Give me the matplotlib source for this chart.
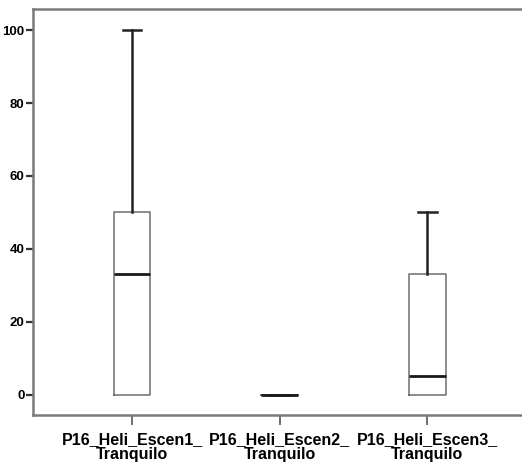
import matplotlib
matplotlib.use("Agg")
import matplotlib.pyplot as plt

labels = ["P16_Heli_Escen1_\nTranquilo", "P16_Heli_Escen2_\nTranquilo", "P16_Heli_Escen3_\nTranquilo"]
whislo = [0, 0, 0]
q1 = [0, 0, 0]
med = [33, 0, 5]
q3 = [50, 0, 33]
whishi = [100, 0, 50]
yticks = [0, 20, 40, 60, 80, 100]

stats = []
for i, lab in enumerate(labels):
    stats.append(dict(label=lab, whislo=whislo[i], q1=q1[i], med=med[i],
                      q3=q3[i], whishi=whishi[i], fliers=[]))

fig = plt.figure(figsize=(5.22, 4.69), dpi=100)
ax = fig.add_axes([0.0632, 0.1151, 0.9368, 0.8657])

parts = ax.bxp(stats, positions=[1, 2, 3], widths=0.25, showfliers=False,
               boxprops=dict(color="#6e6e6e", linewidth=1.1),
               whiskerprops=dict(color="#222222", linewidth=1.8),
               capprops=dict(color="#222222", linewidth=1.8),
               medianprops=dict(color="#1a1a1a", linewidth=2.0),
               capwidths=0.125)

# hide zero-length lower whiskers and their caps
for i in range(len(stats)):
    if whislo[i] == q1[i]:
        parts["caps"][2 * i].set_visible(False)
        parts["whiskers"][2 * i].set_visible(False)

ax.set_xlim(0.33, 3.64)
ax.set_ylim(-5.6, 105.8)
ax.set_yticks(yticks)
ax.set_yticklabels([str(v) for v in yticks], fontsize=9.5, fontweight="bold",
                   family="Liberation Sans")
ax.set_xticks([1, 2, 3])
ax.set_xticklabels(labels, fontsize=11.5, fontweight="bold",
                   family="Liberation Sans", linespacing=1.0)

for side in ["left", "bottom", "top"]:
    ax.spines[side].set_color("#7a7a7a")
    ax.spines[side].set_linewidth(1.8)
ax.spines["right"].set_visible(False)
ax.tick_params(axis="y", length=5, width=1.6, color="#333333", pad=1)
ax.tick_params(axis="x", length=7, width=1.2, color="#555555", pad=5)

fig.savefig("out.png", dpi=100)
